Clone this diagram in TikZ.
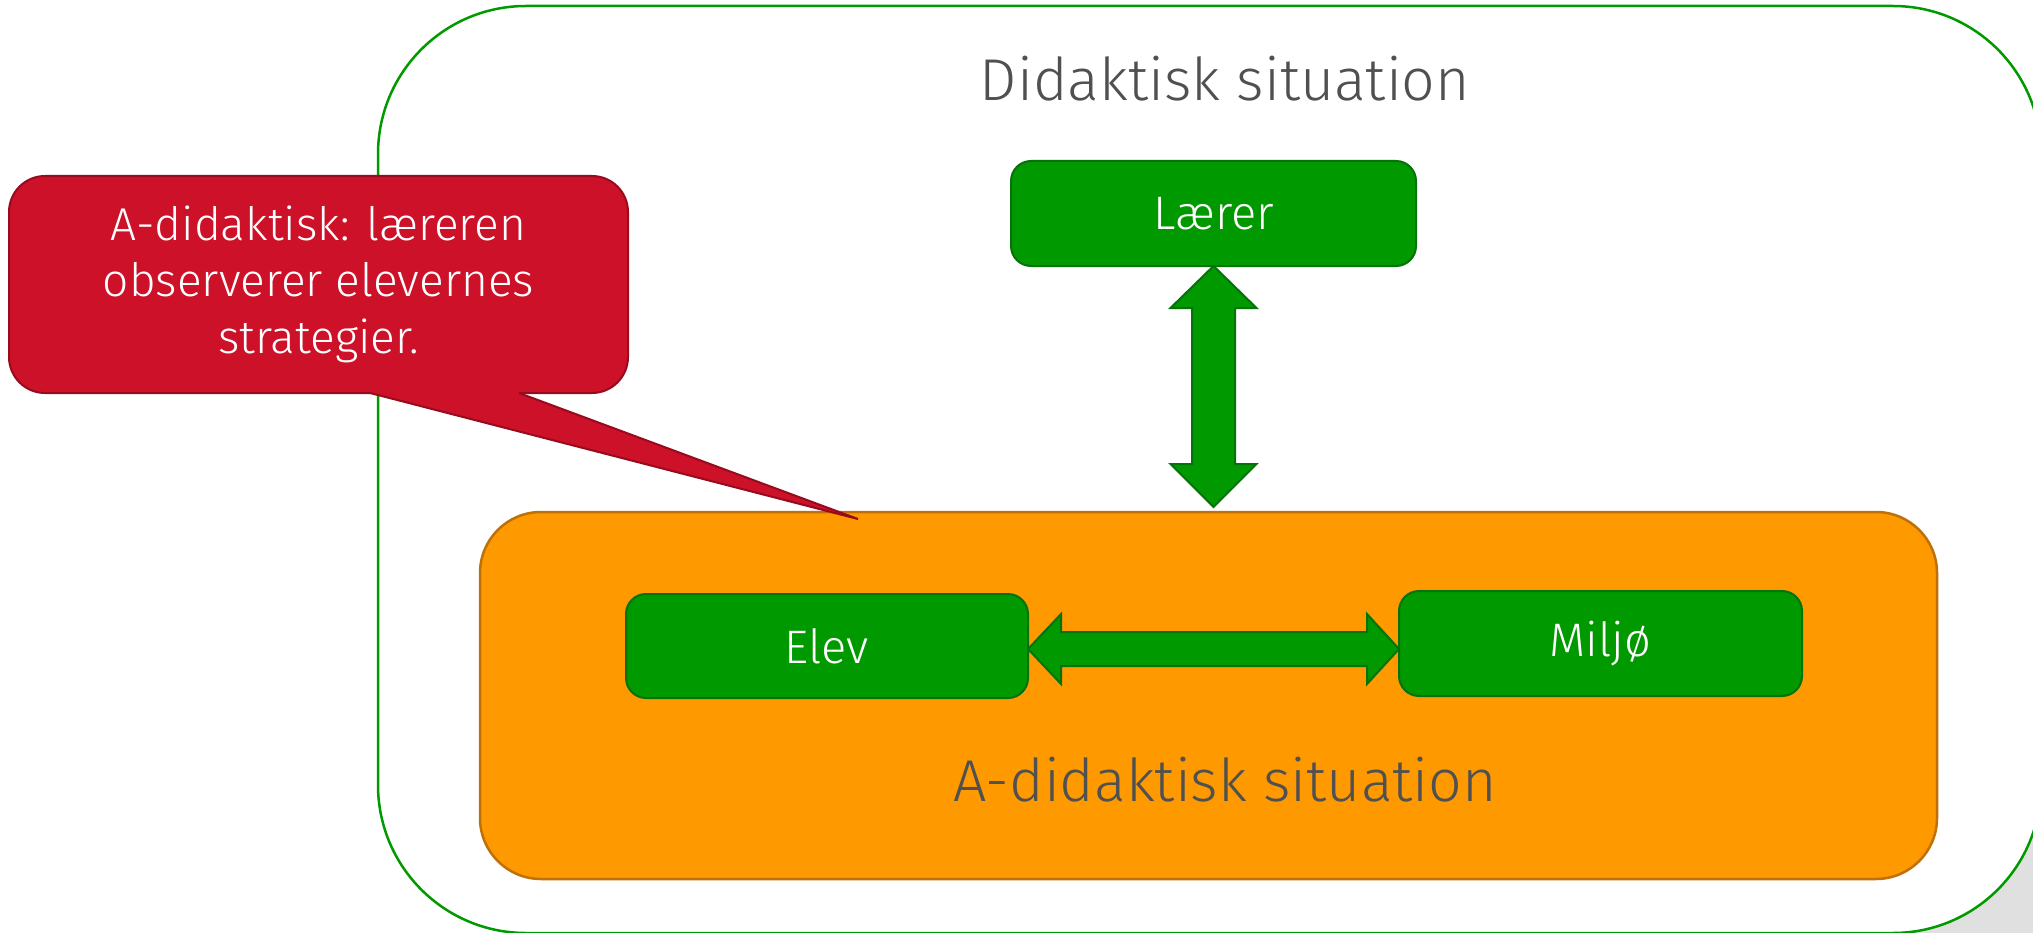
\documentclass[tikz,border=0pt]{standalone}
\usepackage{fontspec}
\setmainfont{Fira Sans Light}
\usetikzlibrary{calc}

\definecolor{boxgreen}{HTML}{009900}
\definecolor{boxgreenline}{HTML}{06720A}
\definecolor{frameorange}{HTML}{FF9900}
\definecolor{frameorangeline}{HTML}{BF7009}
\definecolor{calloutred}{HTML}{CC1128}
\definecolor{calloutredline}{HTML}{980B1E}
\definecolor{titlegray}{HTML}{505050}
\definecolor{cornershade}{HTML}{E0E0E0}

\tikzset{
  actor/.style={draw=boxgreenline, line width=2pt, fill=boxgreen, rounded corners=20pt,
    text=white, inner sep=0pt, outer sep=0pt, font=\fontsize{47}{52}\selectfont},
  milieu/.style={draw=frameorangeline, line width=2.5pt, fill=frameorange, rounded corners=61pt,
    inner sep=0pt, outer sep=0pt},
  situationlabel/.style={text=titlegray, inner sep=0pt, anchor=base, font=\fontsize{59}{62}\selectfont},
  blockarrow/.style={draw=boxgreenline, line width=2pt, fill=boxgreen, line join=miter},
  calloutbox/.style={draw=calloutredline, line width=2pt, fill=calloutred, rounded corners=36pt,
    inner sep=0pt, outer sep=0pt},
  callouttext/.style={text=white, align=center, inner sep=0pt, font=\fontsize{46}{56.5}\selectfont},
}

\begin{document}
\begin{tikzpicture}[x=1pt, y=-1pt]
  \useasboundingbox (0,0) rectangle (2033,933);
  \clip (0,0) rectangle (2033,933);

  % shaded corner behind the outer frame
  \fill[cornershade] (1880,700) rectangle (2033,933);

  % outer frame: the didactic situation
  \draw[boxgreen, line width=2.5pt, fill=white, rounded corners=148pt]
    (378,6) rectangle (2041,933);
  \node[situationlabel] (didtitle) at (1225,101) {Didaktisk situation};

  % inner frame: the a-didactic situation
  \node[milieu, minimum width=1457pt, minimum height=367pt] (adid) at (1208.5,695.5) {};
  \node[situationlabel] (adidtitle) at (1225,801) {A-didaktisk situation};

  % actors
  \node[actor, minimum width=405pt, minimum height=105pt] (laerer) at (1213.5,213.5) {Lærer};
  \node[actor, minimum width=402pt, minimum height=104pt] (elev) at (827,646) {Elev};
  \node[actor, minimum width=403pt, minimum height=105pt] (miljo) at (1600.5,643.5) {Miljø};

  % vertical double arrow between teacher and the a-didactic situation
  \coordinate (vtop) at (laerer.south);
  \coordinate (vbot) at ($(vtop |- adid.north)+(0,-5)$);
  \draw[blockarrow] (vtop)
    -- ($(vtop)+(43,42)$) -- ($(vtop)+(21.5,42)$)
    -- ($(vbot)+(21.5,-43)$) -- ($(vbot)+(43,-43)$)
    -- (vbot)
    -- ($(vbot)+(-43,-43)$) -- ($(vbot)+(-21.5,-43)$)
    -- ($(vtop)+(-21.5,42)$) -- ($(vtop)+(-43,42)$) -- cycle;

  % horizontal double arrow between pupil and milieu
  \coordinate (hleft) at (elev.east |- 0,649);
  \coordinate (hright) at (miljo.west |- 0,649);
  \draw[blockarrow] (hleft)
    -- ($(hleft)+(33,-35)$) -- ($(hleft)+(33,-17)$)
    -- ($(hright)+(-32,-17)$) -- ($(hright)+(-32,-35)$)
    -- (hright)
    -- ($(hright)+(-32,35)$) -- ($(hright)+(-32,17)$)
    -- ($(hleft)+(33,17)$) -- ($(hleft)+(33,35)$) -- cycle;

  % callout with its pointer
  \node[calloutbox, minimum width=619pt, minimum height=217pt] (callout) at (318.5,284.5) {};
  \coordinate (calltip) at (858,519);
  \fill[calloutred] (370,389) -- (370,393) -- (calltip) -- (519,393) -- (519,389) -- cycle;
  \draw[calloutredline, line width=2pt, line join=miter]
    (370,393) -- (calltip) -- (519,393);
  \node[callouttext] (callouttxt) at (318.5,284)
    {A-didaktisk: læreren\\observerer elevernes\\strategier.};
\end{tikzpicture}
\end{document}
